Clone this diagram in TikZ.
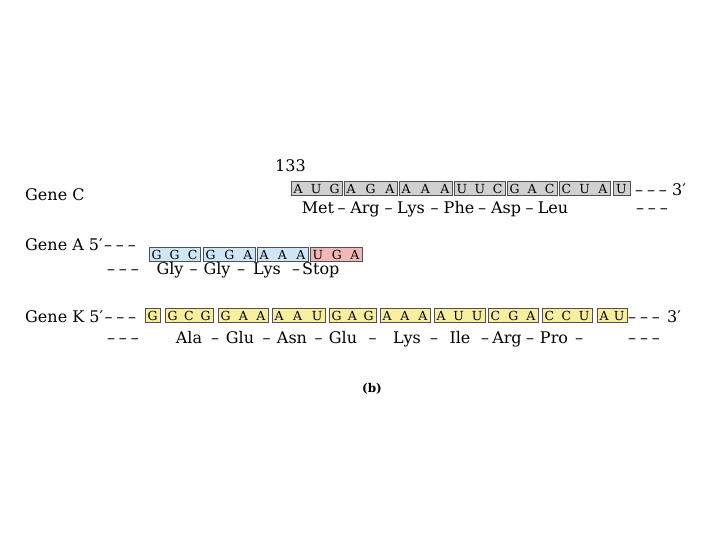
\documentclass[tikz,border=0pt]{standalone}
\usepackage{fontspec}
\setmainfont{DejaVu Serif}
\definecolor{cgray}{HTML}{D0D0D0}
\definecolor{cblue}{HTML}{CFE6F7}
\definecolor{cpink}{HTML}{F2B8B8}
\definecolor{cyell}{HTML}{F9EE9E}
\definecolor{cedge}{HTML}{505050}
\newcommand\cdn[6]{\node[#5, minimum width={(#3-#2)*1pt}] (#1) at ({(#2+#3)/2},#4) {\makebox[\dimexpr #3pt-#2pt-5pt\relax][s]{#6}};}
\newcommand\dsh{\textendash\kern3.8pt\textendash\kern3.8pt\textendash}
\tikzset{
  cbox/.style={draw=cedge, line width=0.6pt, inner xsep=0pt, inner ysep=2.45pt, text height=9.1pt, text depth=0pt, minimum height=14pt, font=\fontsize{12.5}{12.5}\selectfont},
  grayc/.style={cbox, fill=cgray},
  bluec/.style={cbox, fill=cblue},
  pinkc/.style={cbox, fill=cpink},
  yellc/.style={cbox, fill=cyell},
  lbl/.style={anchor=base west, inner sep=0pt, font=\fontsize{16}{19}\selectfont},
  aa/.style={anchor=base, inner sep=0pt, font=\fontsize{16}{19}\selectfont},
}
\begin{document}
\begin{tikzpicture}[x=1pt, y=-1pt]
\useasboundingbox (0,0) rectangle (720,540);
% Gene C
\node[lbl] (gc) at (25,201) {Gene C};
\node[lbl] (n133) at (275,172) {133};
\cdn{c1}{291}{342}{188.5}{grayc}{A\hfil U\hfil G}
\cdn{c2}{344}{397}{188.5}{grayc}{A\hfil G\hfil A}
\cdn{c3}{399}{452}{188.5}{grayc}{A\hfil A\hfil A}
\cdn{c4}{454}{505}{188.5}{grayc}{U\hfil U\hfil C}
\cdn{c5}{507}{557}{188.5}{grayc}{G\hfil A\hfil C}
\cdn{c6}{559}{610}{188.5}{grayc}{C\hfil U\hfil A}
\cdn{c7}{613}{630}{188.5}{grayc}{\hfil U\hfil}
\node[lbl] (cd) at (635,196) {\dsh};
\node[lbl] (c3p) at (672,196) {3′};
\node[aa] (cm1) at (318,214) {Met};
\node[aa] (cd1) at (341.5,214) {\textendash};
\node[aa] (cm2) at (365,214) {Arg};
\node[aa] (cd2) at (388.5,214) {\textendash};
\node[aa] (cm3) at (411,214) {Lys};
\node[aa] (cd3) at (434.5,214) {\textendash};
\node[aa] (cm4) at (459,214) {Phe};
\node[aa] (cd4) at (482,214) {\textendash};
\node[aa] (cm5) at (506,214) {Asp};
\node[aa] (cd5) at (529.5,214) {\textendash};
\node[aa] (cm6) at (553,214) {Leu};
\node[lbl] (cde) at (636,214) {\dsh};
% Gene A
\node[lbl] (ga) at (25,250) {Gene A 5′};
\node[lbl, xshift=1pt] (gad) at (ga.base east) {\dsh};
\cdn{a1}{149}{200}{254.5}{bluec}{G\hfil G\hfil C}
\cdn{a2}{203}{255}{254.5}{bluec}{G\hfil G\hfil A}
\cdn{a3}{257}{308}{254.5}{bluec}{A\hfil A\hfil A}
\cdn{a4}{310}{362}{254.5}{pinkc}{U\hfil G\hfil A}
\node[lbl] (ad0) at (107,274) {\dsh};
\node[aa] (am1) at (170,274) {Gly};
\node[aa] (ad1) at (193.5,274) {\textendash};
\node[aa] (am2) at (217,274) {Gly};
\node[aa] (ad2) at (241,274) {\textendash};
\node[aa] (am3) at (267,274) {Lys};
\node[aa] (ad3) at (296,274) {\textendash};
\node[lbl] (am4) at (302,274) {Stop};
% Gene K
\node[lbl] (gk) at (25,322) {Gene K 5′};
\node[lbl, xshift=1pt] (gkd) at (gk.base east) {\dsh};
\cdn{k1}{145}{160}{315.5}{yellc}{\hfil G\hfil}
\cdn{k2}{165}{213}{315.5}{yellc}{G\hfil C\hfil G}
\cdn{k3}{218}{268}{315.5}{yellc}{G\hfil A\hfil A}
\cdn{k4}{272}{325}{315.5}{yellc}{A\hfil A\hfil U}
\cdn{k5}{329}{376}{315.5}{yellc}{G\hfil A\hfil G}
\cdn{k6}{380}{430}{315.5}{yellc}{A\hfil A\hfil A}
\cdn{k7}{434}{485}{315.5}{yellc}{A\hfil U\hfil U}
\cdn{k8}{488}{538}{315.5}{yellc}{C\hfil G\hfil A}
\cdn{k9}{542}{592}{315.5}{yellc}{C\hfil C\hfil U}
\cdn{k10}{597}{627}{315.5}{yellc}{A\hfil U}
\node[lbl] (kd) at (628,322) {\dsh};
\node[lbl] (k3p) at (667,322) {3′};
\node[lbl] (kd0) at (107,343) {\dsh};
\node[aa] (km1) at (189,343) {Ala};
\node[aa] (kd1) at (215,343) {\textendash};
\node[aa] (km2) at (240,343) {Glu};
\node[aa] (kd2) at (266.5,343) {\textendash};
\node[aa] (km3) at (292,343) {Asn};
\node[aa] (kd3) at (318.5,343) {\textendash};
\node[aa] (km4) at (343,343) {Glu};
\node[aa] (kd4) at (372.5,343) {\textendash};
\node[aa] (km5) at (407,343) {Lys};
\node[aa] (kd5) at (434,343) {\textendash};
\node[aa] (km6) at (460,343) {Ile};
\node[aa] (kd6) at (485,343) {\textendash};
\node[aa] (km7) at (507,343) {Arg};
\node[aa] (kd7) at (530,343) {\textendash};
\node[aa] (km8) at (554,343) {Pro};
\node[aa] (kd8) at (579,343) {\textendash};
\node[lbl] (kde) at (628,343) {\dsh};
% caption
\node[inner sep=0pt, font=\fontsize{12}{14}\selectfont\bfseries] (cap) at (372,389) {(b)};
\end{tikzpicture}
\end{document}
